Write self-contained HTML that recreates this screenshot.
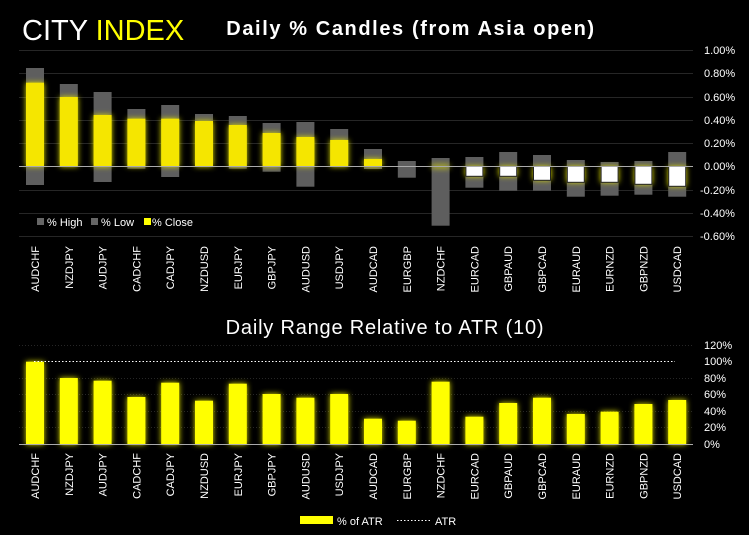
<!DOCTYPE html>
<html><head><meta charset="utf-8"><style>
html,body{margin:0;padding:0;background:#000;}
svg{display:block;font-family:"Liberation Sans",sans-serif;}
</style></head><body>
<svg width="749" height="535" viewBox="0 0 749 535" xmlns="http://www.w3.org/2000/svg">
<defs>
<filter id="g" x="-50%" y="-50%" width="200%" height="200%"><feGaussianBlur stdDeviation="3"/></filter>
</defs>
<rect width="749" height="535" fill="#000"/>
<text x="22" y="40" font-size="29" fill="#fff">CITY <tspan fill="#ffff00">INDEX</tspan></text>
<text x="411" y="35" font-size="20" font-weight="bold" fill="#fff" text-anchor="middle" letter-spacing="1.6">Daily % Candles (from Asia open)</text>
<g stroke="#262626" stroke-width="1">
<line x1="19" x2="693" y1="50.5" y2="50.5"/><line x1="19" x2="693" y1="73.5" y2="73.5"/><line x1="19" x2="693" y1="97.5" y2="97.5"/><line x1="19" x2="693" y1="120.5" y2="120.5"/><line x1="19" x2="693" y1="143.5" y2="143.5"/><line x1="19" x2="693" y1="190.5" y2="190.5"/><line x1="19" x2="693" y1="213.5" y2="213.5"/><line x1="19" x2="693" y1="236.5" y2="236.5"/>
</g>
<g font-size="11" fill="#fff">
<text x="704" y="54">1.00%</text><text x="704" y="77">0.80%</text><text x="704" y="101">0.60%</text><text x="704" y="124">0.40%</text><text x="704" y="147">0.20%</text><text x="704" y="170">0.00%</text><text x="700" y="194">-0.20%</text><text x="700" y="217">-0.40%</text><text x="700" y="240">-0.60%</text>
</g>
<g fill="#5e5e5e">
<rect x="26" y="68" width="18" height="98.5"/><rect x="26" y="166.5" width="18" height="18.5"/>
<rect x="59.8" y="84" width="18" height="82.5"/>
<rect x="93.6" y="92" width="18" height="74.5"/><rect x="93.6" y="166.5" width="18" height="15.5"/>
<rect x="127.4" y="109" width="18" height="57.5"/><rect x="127.4" y="166.5" width="18" height="2.2"/>
<rect x="161.2" y="105" width="18" height="61.5"/><rect x="161.2" y="166.5" width="18" height="10.5"/>
<rect x="195" y="114" width="18" height="52.5"/>
<rect x="228.8" y="116" width="18" height="50.5"/><rect x="228.8" y="166.5" width="18" height="2.2"/>
<rect x="262.6" y="123" width="18" height="43.5"/><rect x="262.6" y="166.5" width="18" height="5.2"/>
<rect x="296.4" y="122" width="18" height="44.5"/><rect x="296.4" y="166.5" width="18" height="20.2"/>
<rect x="330.2" y="129" width="18" height="37.5"/>
<rect x="364" y="149" width="18" height="17.5"/><rect x="364" y="166.5" width="18" height="2.5"/>
<rect x="397.8" y="161" width="18" height="5.5"/><rect x="397.8" y="166.5" width="18" height="11.2"/>
<rect x="431.6" y="158" width="18" height="8.5"/><rect x="431.6" y="166.5" width="18" height="59.2"/>
<rect x="465.4" y="157" width="18" height="9.5"/><rect x="465.4" y="166.5" width="18" height="21.2"/>
<rect x="499.2" y="152" width="18" height="14.5"/><rect x="499.2" y="166.5" width="18" height="24.2"/>
<rect x="533" y="155" width="18" height="11.5"/><rect x="533" y="166.5" width="18" height="24.2"/>
<rect x="566.8" y="160" width="18" height="6.5"/><rect x="566.8" y="166.5" width="18" height="30.2"/>
<rect x="600.6" y="162" width="18" height="4.5"/><rect x="600.6" y="166.5" width="18" height="29.2"/>
<rect x="634.4" y="161" width="18" height="5.5"/><rect x="634.4" y="166.5" width="18" height="28.2"/>
<rect x="668.2" y="152" width="18" height="14.5"/><rect x="668.2" y="166.5" width="18" height="30.2"/>
</g>
<g fill="#e0e000" filter="url(#g)" opacity="1">
<rect x="26" y="82.7" width="18" height="83.8"/><rect x="59.8" y="97" width="18" height="69.5"/><rect x="93.6" y="115" width="18" height="51.5"/><rect x="127.4" y="118.7" width="18" height="47.8"/><rect x="161.2" y="118.7" width="18" height="47.8"/><rect x="195" y="121" width="18" height="45.5"/><rect x="228.8" y="125" width="18" height="41.5"/><rect x="262.6" y="133" width="18" height="33.5"/><rect x="296.4" y="137" width="18" height="29.5"/><rect x="330.2" y="140" width="18" height="26.5"/><rect x="364" y="159" width="18" height="7.5"/>
<rect x="431.6" y="165" width="18" height="3"/>
<rect x="465.4" y="166.5" width="18" height="9.8"/><rect x="499.2" y="166.5" width="18" height="9.8"/><rect x="533" y="166.5" width="18" height="13.8"/><rect x="566.8" y="166.5" width="18" height="15.8"/><rect x="600.6" y="166.5" width="18" height="15.8"/><rect x="634.4" y="166.5" width="18" height="17.8"/><rect x="668.2" y="166.5" width="18" height="19.8"/>
</g>
<g fill="#f5e600">
<rect x="26" y="82.7" width="18" height="83.8"/><rect x="59.8" y="97" width="18" height="69.5"/><rect x="93.6" y="115" width="18" height="51.5"/><rect x="127.4" y="118.7" width="18" height="47.8"/><rect x="161.2" y="118.7" width="18" height="47.8"/><rect x="195" y="121" width="18" height="45.5"/><rect x="228.8" y="125" width="18" height="41.5"/><rect x="262.6" y="133" width="18" height="33.5"/><rect x="296.4" y="137" width="18" height="29.5"/><rect x="330.2" y="140" width="18" height="26.5"/><rect x="364" y="159" width="18" height="7.5"/>
</g>
<g fill="#fff" stroke="#222" stroke-width="1">
<rect x="465.9" y="166.5" width="17" height="9.8"/><rect x="499.7" y="166.5" width="17" height="9.8"/><rect x="533.5" y="166.5" width="17" height="13.8"/><rect x="567.3" y="166.5" width="17" height="15.8"/><rect x="601.1" y="166.5" width="17" height="15.8"/><rect x="634.9" y="166.5" width="17" height="17.8"/><rect x="668.7" y="166.5" width="17" height="19.8"/>
</g>
<line x1="19" x2="693" y1="166.5" y2="166.5" stroke="#aaa" stroke-width="1"/>
<g font-size="11" fill="#fff">
<rect x="37" y="218" width="7" height="7" fill="#666"/><text x="47" y="226">% High</text>
<rect x="91" y="218" width="7" height="7" fill="#666"/><text x="101" y="226">% Low</text>
<rect x="144" y="218" width="7" height="7" fill="#ffff00"/><text x="152" y="226">% Close</text>
</g>
<text x="385" y="334" font-size="20" fill="#fff" text-anchor="middle" letter-spacing="0.8">Daily Range Relative to ATR (10)</text>
<g stroke="#262626" stroke-dasharray="1,2">
<line x1="19" x2="693" y1="345.5" y2="345.5"/><line x1="19" x2="693" y1="378.5" y2="378.5"/><line x1="19" x2="693" y1="394.5" y2="394.5"/><line x1="19" x2="693" y1="411.5" y2="411.5"/><line x1="19" x2="693" y1="427.5" y2="427.5"/>
</g>
<g font-size="11" fill="#fff">
<text x="704" y="349">120%</text><text x="704" y="365">100%</text><text x="704" y="382">80%</text><text x="704" y="398">60%</text><text x="704" y="415">40%</text><text x="704" y="431">20%</text><text x="704" y="448">0%</text>
</g>
<g id="bb">
<rect x="26" y="361.7" width="18" height="82.8"/><rect x="59.8" y="378" width="18" height="66.5"/><rect x="93.6" y="380.7" width="18" height="63.8"/><rect x="127.4" y="397" width="18" height="47.5"/><rect x="161.2" y="382.7" width="18" height="61.8"/><rect x="195" y="400.7" width="18" height="43.8"/><rect x="228.8" y="383.7" width="18" height="60.8"/><rect x="262.6" y="394" width="18" height="50.5"/><rect x="296.4" y="397.7" width="18" height="46.8"/><rect x="330.2" y="394" width="18" height="50.5"/><rect x="364" y="418.7" width="18" height="25.8"/><rect x="397.8" y="420.7" width="18" height="23.8"/><rect x="431.6" y="381.7" width="18" height="62.8"/><rect x="465.4" y="416.7" width="18" height="27.8"/><rect x="499.2" y="403" width="18" height="41.5"/><rect x="533" y="397.7" width="18" height="46.8"/><rect x="566.8" y="414" width="18" height="30.5"/><rect x="600.6" y="411.7" width="18" height="32.8"/><rect x="634.4" y="404" width="18" height="40.5"/><rect x="668.2" y="400" width="18" height="44.5"/>
</g>
<use href="#bb" fill="#e0e000" filter="url(#g)"/>
<use href="#bb" fill="#ffff00"/>
<line x1="19" x2="693" y1="444.5" y2="444.5" stroke="#aaa"/>
<line x1="34" x2="675" y1="361.5" y2="361.5" stroke="#fff" stroke-dasharray="1.5,2"/>
<g font-size="11" fill="#fff" text-anchor="end">
<text transform="translate(39,246) rotate(-90)">AUDCHF</text><text transform="translate(39,453) rotate(-90)">AUDCHF</text>
<text transform="translate(72.8,246) rotate(-90)">NZDJPY</text><text transform="translate(72.8,453) rotate(-90)">NZDJPY</text>
<text transform="translate(106.6,246) rotate(-90)">AUDJPY</text><text transform="translate(106.6,453) rotate(-90)">AUDJPY</text>
<text transform="translate(140.4,246) rotate(-90)">CADCHF</text><text transform="translate(140.4,453) rotate(-90)">CADCHF</text>
<text transform="translate(174.2,246) rotate(-90)">CADJPY</text><text transform="translate(174.2,453) rotate(-90)">CADJPY</text>
<text transform="translate(208,246) rotate(-90)">NZDUSD</text><text transform="translate(208,453) rotate(-90)">NZDUSD</text>
<text transform="translate(241.8,246) rotate(-90)">EURJPY</text><text transform="translate(241.8,453) rotate(-90)">EURJPY</text>
<text transform="translate(275.6,246) rotate(-90)">GBPJPY</text><text transform="translate(275.6,453) rotate(-90)">GBPJPY</text>
<text transform="translate(309.4,246) rotate(-90)">AUDUSD</text><text transform="translate(309.4,453) rotate(-90)">AUDUSD</text>
<text transform="translate(343.2,246) rotate(-90)">USDJPY</text><text transform="translate(343.2,453) rotate(-90)">USDJPY</text>
<text transform="translate(377,246) rotate(-90)">AUDCAD</text><text transform="translate(377,453) rotate(-90)">AUDCAD</text>
<text transform="translate(410.8,246) rotate(-90)">EURGBP</text><text transform="translate(410.8,453) rotate(-90)">EURGBP</text>
<text transform="translate(444.6,246) rotate(-90)">NZDCHF</text><text transform="translate(444.6,453) rotate(-90)">NZDCHF</text>
<text transform="translate(478.4,246) rotate(-90)">EURCAD</text><text transform="translate(478.4,453) rotate(-90)">EURCAD</text>
<text transform="translate(512.2,246) rotate(-90)">GBPAUD</text><text transform="translate(512.2,453) rotate(-90)">GBPAUD</text>
<text transform="translate(546,246) rotate(-90)">GBPCAD</text><text transform="translate(546,453) rotate(-90)">GBPCAD</text>
<text transform="translate(579.8,246) rotate(-90)">EURAUD</text><text transform="translate(579.8,453) rotate(-90)">EURAUD</text>
<text transform="translate(613.6,246) rotate(-90)">EURNZD</text><text transform="translate(613.6,453) rotate(-90)">EURNZD</text>
<text transform="translate(647.4,246) rotate(-90)">GBPNZD</text><text transform="translate(647.4,453) rotate(-90)">GBPNZD</text>
<text transform="translate(681.2,246) rotate(-90)">USDCAD</text><text transform="translate(681.2,453) rotate(-90)">USDCAD</text>
</g>
<rect x="300" y="516" width="33" height="8" fill="#ffff00"/>
<text x="337" y="525" font-size="11" fill="#fff">% of ATR</text>
<line x1="397" x2="432" y1="520.5" y2="520.5" stroke="#fff" stroke-dasharray="1.5,2"/>
<text x="435" y="525" font-size="11" fill="#fff">ATR</text>
</svg>
</body></html>
